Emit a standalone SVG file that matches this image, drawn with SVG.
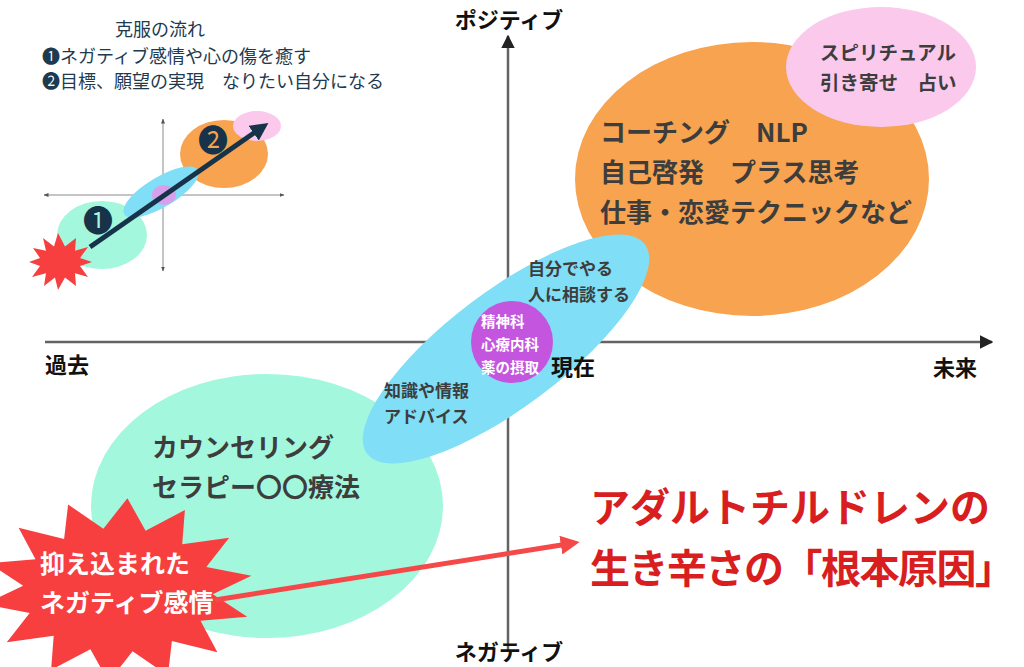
<svg xmlns="http://www.w3.org/2000/svg" width="1024" height="667" viewBox="0 0 1024 667">
<defs>
<style>
text{font-family:"Noto Sans CJK JP","Noto Sans",sans-serif;}
.ax{stroke:#636363;stroke-width:2.5;fill:none;}
.iax{stroke:#8a8a8a;stroke-width:1;fill:none;}
.lbl{font-size:22px;font-weight:700;fill:#111;}
.dk{font-weight:700;fill:#3d3d3d;}
.wt{font-weight:700;fill:#ffffff;}
.red{font-size:40px;font-weight:700;fill:#d81e1e;}
.inset{font-size:18px;fill:#1d3a4e;}
</style>
<marker id="axh" viewBox="0 0 10 10" refX="9" refY="5" markerWidth="5.5" markerHeight="5.5" orient="auto" markerUnits="strokeWidth"><path d="M0,0 L10,5 L0,10 z" fill="#222"/></marker>
<marker id="ih" viewBox="0 0 10 10" refX="9" refY="5" markerWidth="5" markerHeight="5" orient="auto-start-reverse" markerUnits="strokeWidth"><path d="M0,1 L10,5 L0,9 z" fill="#555"/></marker>
<marker id="nh" viewBox="0 0 10 10" refX="7" refY="5" markerWidth="3.6" markerHeight="3.6" orient="auto" markerUnits="strokeWidth"><path d="M0,0 L10,5 L0,10 z" fill="#173349"/></marker>
<marker id="rh" viewBox="0 0 10 10" refX="7" refY="5" markerWidth="3.8" markerHeight="3.8" orient="auto" markerUnits="strokeWidth"><path d="M0,0 L10,5 L0,10 z" fill="#f54848"/></marker>
</defs>
<rect width="1024" height="667" fill="#ffffff"/>

<g id="axes" class="connectors">
<line class="ax" x1="45" y1="342" x2="992" y2="342" marker-end="url(#axh)"/>
<line class="ax" x1="508" y1="650" x2="508" y2="36" marker-end="url(#axh)"/>
</g>

<g id="axis-labels">
<text class="lbl" x="509" y="28" text-anchor="middle">ポジティブ</text>
<text class="lbl" x="509" y="660" text-anchor="middle">ネガティブ</text>
<text class="lbl" x="45" y="373">過去</text>
<text class="lbl" x="933" y="376">未来</text>
</g>

<g id="node-counseling">
<ellipse cx="267" cy="506" rx="176" ry="132" fill="#a3f7dd"/>
<text class="dk" font-size="26" x="152" y="457">カウンセリング</text>
<text class="dk" font-size="26" x="152" y="497">セラピー〇〇療法</text>
</g>

<g id="node-coaching">
<ellipse cx="752" cy="179" rx="177" ry="137" fill="#f7a34f"/>
<text class="dk" font-size="26" x="600" y="142">コーチング　NLP</text>
<text class="dk" font-size="26" x="600" y="182">自己啓発　プラス思考</text>
<text class="dk" font-size="26" x="600" y="222">仕事・恋愛テクニックなど</text>
</g>

<g id="node-spiritual">
<ellipse cx="881" cy="67" rx="95" ry="60" fill="#fac9ec"/>
<text class="dk" font-size="19.5" x="820" y="60">スピリチュアル</text>
<text class="dk" font-size="19.5" x="820" y="90">引き寄せ　占い</text>
</g>

<g id="node-self">
<ellipse cx="506" cy="349" rx="174" ry="58" transform="rotate(-37 506 349)" fill="#80def6"/>
<text class="dk" font-size="17" x="528" y="275">自分でやる</text>
<text class="dk" font-size="17" x="528" y="301">人に相談する</text>
<text class="dk" font-size="17" x="384" y="397">知識や情報</text>
<text class="dk" font-size="17" x="384" y="423">アドバイス</text>
</g>

<g id="node-psychiatry">
<circle cx="512" cy="342" r="41" fill="#c455df"/>
<text class="wt" font-size="14.5" x="481" y="327">精神科</text>
<text class="wt" font-size="14.5" x="481" y="350">心療内科</text>
<text class="wt" font-size="14.5" x="481" y="373">薬の摂取</text>
</g>

<text id="label-now" class="lbl" x="551" y="375">現在</text>

<g id="node-suppressed">
<polygon fill="#f73f3f" points="127.4,498.2 145.6,530.7 184.9,510.1 182.2,544.3 229.2,537.8 206.3,567.1 251.4,575.8 212.8,594.3 247.2,616.7 200.5,620.7 217.4,652.2 171.9,641.1 167.9,675.5 132.6,651.3 108.6,681.8 90.4,649.3 51.1,669.9 53.7,635.7 6.8,642.2 29.7,612.9 -15.4,604.2 23.2,585.7 -11.2,563.3 35.5,559.3 18.6,527.8 64.1,538.9 68.1,504.5 103.4,528.7"/>
<text class="wt" font-size="25" x="40" y="573">抑え込まれた</text>
<text class="wt" font-size="25" x="40" y="612">ネガティブ感情</text>
</g>

<g id="connectors">
<line x1="215" y1="600" x2="574" y2="543" stroke="#f54848" stroke-width="5" marker-end="url(#rh)"/>
</g>

<g id="node-root-cause">
<text class="red" x="590" y="522">アダルトチルドレンの</text>
<text class="red" x="590" y="583" letter-spacing="-1.5">生き辛さの「根本原因」</text>
</g>

<g id="inset">
<text class="inset" x="115" y="36">克服の流れ</text>
<text class="inset" x="42" y="63">❶ネガティブ感情や心の傷を癒す</text>
<text class="inset" x="42" y="88">❷目標、願望の実現　なりたい自分になる</text>
<line class="iax" x1="44" y1="195" x2="284" y2="195" marker-start="url(#ih)" marker-end="url(#ih)"/>
<line class="iax" x1="163" y1="119" x2="163" y2="271" marker-start="url(#ih)" marker-end="url(#ih)"/>
<ellipse cx="102" cy="235" rx="45" ry="34" fill="#a3f7dd"/>
<ellipse cx="224" cy="154" rx="44" ry="34" fill="#f7a34f"/>
<ellipse cx="257" cy="126" rx="24" ry="15" fill="#fac9ec"/>
<ellipse cx="161" cy="192" rx="43" ry="15" transform="rotate(-31 161 192)" fill="#80def6"/>
<ellipse cx="164" cy="195" rx="12" ry="10" fill="#d7a0ec"/>
<polygon fill="#f73f3f" points="58,233 65,246.5 76,238 75,250.7 88,247 80,257.9 92,262 80,266.1 88,277 75,273.3 76,286 65,277.5 58,290 55,277.5 44,286 46,273.3 32,277 40,266.1 29,262 40,257.9 33,248 46,250.7 43,238 54,246.5"/>
<line x1="90" y1="247" x2="264" y2="126" stroke="#173349" stroke-width="5" marker-end="url(#nh)"/>
<text x="83" y="231" font-size="30" fill="#173349" font-family="DejaVu Sans,sans-serif">❶</text>
<text x="198" y="151" font-size="30" fill="#173349" font-family="DejaVu Sans,sans-serif">❷</text>
</g>
</svg>
